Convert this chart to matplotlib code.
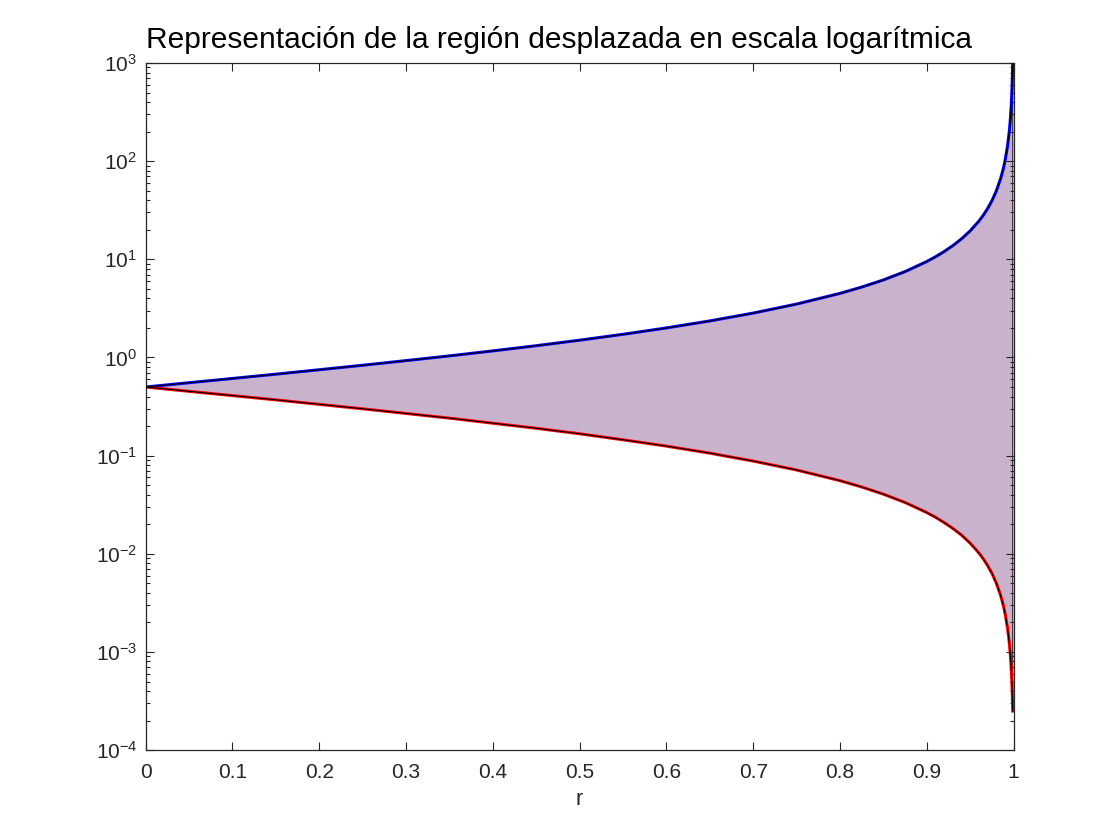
import matplotlib
matplotlib.use("Agg")
import matplotlib.pyplot as plt
import numpy as np

# Values
r = [0.0, 0.05, 0.1, 0.15, 0.2, 0.25, 0.3, 0.35, 0.4, 0.45, 0.5, 0.55, 0.6,
     0.65, 0.7, 0.75, 0.8, 0.825, 0.85, 0.875, 0.9, 0.91, 0.92, 0.93, 0.94,
     0.95, 0.96, 0.965, 0.97, 0.975, 0.98, 0.985, 0.988, 0.99, 0.993, 0.995,
     0.996, 0.997, 0.998, 0.9985, 0.999]
upper = [0.5, 0.553, 0.611, 0.676, 0.75, 0.833, 0.929, 1.038, 1.167, 1.318,
         1.5, 1.722, 2.0, 2.357, 2.833, 3.5, 4.5, 5.214, 6.167, 7.5, 9.5,
         10.61, 12.0, 13.79, 16.17, 19.5, 24.5, 28.07, 32.8, 39.5, 49.5, 66.2,
         82.8, 99.5, 142.4, 199.5, 249.5, 332.8, 499.5, 666.2, 999.5]
lower = [0.5, 0.452, 0.409, 0.370, 0.333, 0.300, 0.269, 0.241, 0.214, 0.190,
         0.167, 0.145, 0.125, 0.106, 0.088, 0.0714, 0.0556, 0.0479, 0.0405,
         0.0333, 0.0263, 0.02356, 0.0208, 0.01813, 0.0155, 0.01282, 0.0102,
         0.00891, 0.0076, 0.00633, 0.00505, 0.00378, 0.00302, 0.00251,
         0.00176, 0.00125, 0.001002, 0.00075, 0.0005, 0.000375, 0.00025]

x_ticks = [0, 0.1, 0.2, 0.3, 0.4, 0.5, 0.6, 0.7, 0.8, 0.9, 1]
x_tick_labels = ["0", "0.1", "0.2", "0.3", "0.4", "0.5", "0.6", "0.7", "0.8", "0.9", "1"]
y_ticks = [1e-4, 1e-3, 1e-2, 1e-1, 1e0, 1e1, 1e2, 1e3]

title = "Representación de la región desplazada en escala logarítmica"
xlabel = "r"

plt.rcParams['font.family'] = ['Liberation Sans', 'DejaVu Sans']
plt.rcParams['mathtext.fontset'] = 'custom'
plt.rcParams['mathtext.rm'] = 'Liberation Sans'
plt.rcParams['mathtext.it'] = 'Liberation Sans:italic'
plt.rcParams['mathtext.bf'] = 'Liberation Sans:bold'
plt.rcParams['axes.unicode_minus'] = False

fig = plt.figure(figsize=(11.2, 8.4), dpi=100)
ax = fig.add_axes([0.13, 0.107, 0.775, 0.818])

axcol = '#262626'
ax.fill(np.concatenate([r, r[::-1]]), np.concatenate([upper, lower[::-1]]),
        facecolor='#C9B3CC', edgecolor='#222222', linewidth=0.8, zorder=1)
ax.plot(r, upper, color='#0000FF', linewidth=2.2, zorder=2)
ax.plot(r, lower, color='#FF0000', linewidth=2.2, zorder=2)
ax.plot(r, upper, color='black', linewidth=0.8, zorder=3)
ax.plot(r, lower, color='black', linewidth=0.8, zorder=3)

ax.set_yscale('log')
ax.set_xlim(0, 1)
ax.set_ylim(1e-4, 1e3)
ax.set_xticks(x_ticks)
ax.set_xticklabels(x_tick_labels)
ax.set_yticks(y_ticks)

ax.tick_params(which='both', direction='in', top=True, right=True,
               colors=axcol, labelsize=15, width=0.8)
ax.tick_params(which='major', length=6)
ax.tick_params(axis='x', which='major', pad=9)
ax.tick_params(axis='y', which='major', pad=6)
ax.tick_params(which='minor', length=3)
ax.tick_params(axis='x', which='minor', bottom=False, top=False)
for s in ax.spines.values():
    s.set_color(axcol)
    s.set_linewidth(0.9)

ax.set_xlabel(xlabel, fontsize=15.5, color=axcol, labelpad=5)
ax.set_title(title, fontsize=21.5, color='black', loc='left', pad=11)

fig.savefig('out.png', dpi=100, facecolor='white')
